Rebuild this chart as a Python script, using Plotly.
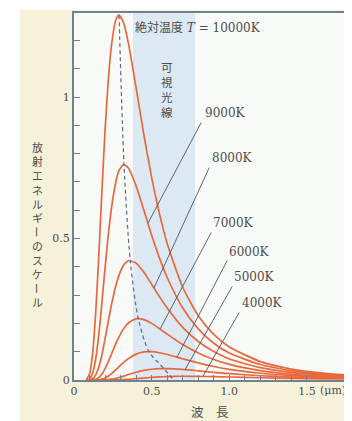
import plotly.graph_objects as go
import numpy as np

# ---------------- data ----------------
wavelength = [0.08, 0.1, 0.12, 0.14, 0.16, 0.18, 0.2, 0.22, 0.24, 0.27, 0.29, 0.32, 0.35,
              0.4, 0.45, 0.5, 0.55, 0.6, 0.7, 0.8, 0.9, 1.0, 1.2, 1.4, 1.6, 1.8]

T10000 = [0.0018, 0.0212, 0.0936, 0.2401, 0.4449, 0.6708, 0.8812, 1.0530, 1.1767, 1.2741, 1.29,
          1.2608, 1.1905, 1.0324, 0.8664, 0.7158, 0.5879, 0.4825, 0.3278, 0.2272, 0.1610,
          0.1167, 0.0651, 0.0389, 0.0245, 0.0162]
T9000 = [0.0002, 0.0043, 0.0243, 0.0756, 0.1624, 0.2760, 0.3961, 0.5084, 0.6033, 0.7015, 0.7408,
         0.7613, 0.7495, 0.6858, 0.5998, 0.5116, 0.4316, 0.3622, 0.2544, 0.1809, 0.1299,
         0.0951, 0.0546, 0.0329, 0.0209, 0.0139]
T8000 = [0.0, 0.0006, 0.0045, 0.0182, 0.0465, 0.0901, 0.1458, 0.2050, 0.2622, 0.3348, 0.3707,
         0.4062, 0.4214, 0.4131, 0.3806, 0.3383, 0.2946, 0.2543, 0.1857, 0.1361, 0.1004,
         0.0744, 0.0435, 0.0270, 0.0173, 0.0116]
T7000 = [0.0, 0.0, 0.0005, 0.0029, 0.0093, 0.0215, 0.0403, 0.0639, 0.0899, 0.1292, 0.1526,
         0.1815, 0.2014, 0.2161, 0.2133, 0.2001, 0.1816, 0.1623, 0.1254, 0.0953, 0.0724,
         0.0551, 0.0333, 0.0209, 0.0138, 0.0094]
T6000 = [0.0, 0.0, 0.0, 0.0002, 0.0011, 0.0032, 0.0073, 0.0133, 0.0214, 0.0363, 0.0469,
         0.0622, 0.0754, 0.0915, 0.0991, 0.1000, 0.0963, 0.0903, 0.0751, 0.0603, 0.0477,
         0.0375, 0.0238, 0.0154, 0.0103, 0.0072]
T5000 = [0.0, 0.0, 0.0, 0.0, 0.0, 0.0001, 0.0007, 0.0015, 0.0029, 0.0061, 0.0089,
         0.0139, 0.0192, 0.0275, 0.0339, 0.0380, 0.0400, 0.0402, 0.0372, 0.0323, 0.0271,
         0.0224, 0.0151, 0.0102, 0.0071, 0.0050]
T4000 = [0.0, 0.0, 0.0, 0.0, 0.0, 0.0, 0.0, 0.0, 0.0001, 0.0004, 0.0007,
         0.0015, 0.0025, 0.0046, 0.0069, 0.0090, 0.0108, 0.0120, 0.0132, 0.0129, 0.0119,
         0.0106, 0.0079, 0.0058, 0.0043, 0.0031]

series = [T10000, T9000, T8000, T7000, T6000, T5000, T4000]
temp_labels = ["10000K", "9000K", "8000K", "7000K", "6000K", "5000K", "4000K"]

# peak locus (dashed)
peak_wl = [0.29, 0.322, 0.362, 0.414, 0.483, 0.58, 0.64]
peak_val = [1.29, 0.762, 0.423, 0.217, 0.100, 0.040, 0.0]

# where each leader line touches its curve (wavelength)
leader_wl = [None, 0.476, 0.515, 0.554, 0.663, 0.715, 0.83]

visible_band = [0.38, 0.78]

x_tickvals = [round(0.1 * i, 1) for i in range(16)]
x_ticktext = ["0", "", "", "", "", "0.5", "", "", "", "", "1.0", "", "", "", "", "1.5"]
y_tickvals = [round(0.1 * i, 1) for i in range(13)]
y_ticktext = ["0", "", "", "", "", "0.5", "", "", "", "", "1", "", ""]

title_text = "絶対温度 <i>T</i> = 10000K"
band_text = "可視光線"
y_title = "放射エネルギーのスケール"
x_title = "波　長"
unit_text = "(μm)"

# ---------------- layout geometry ----------------
# the page body has an 8px margin, so the figure starts at (8, 8) of the window
OFF = 8
WIN_W, WIN_H = 352, 421
W, H = WIN_W - OFF, WIN_H - OFF
# plot area in window pixels
PL, PR, PT, PB = 74, 352, 13, 380
L, R, T, B = PL - OFF, WIN_W - PR, PT - OFF, WIN_H - PB
XR = [0, 1.79]
YR = [0, 1.297]
PW, PH = PR - PL, PB - PT


def dx(xp):
    return XR[0] + (xp - PL) / PW * (XR[1] - XR[0])


def dy(yp):
    return YR[0] + (PB - yp) / PH * (YR[1] - YR[0])


def paper_x(xp):
    return (xp - PL) / PW


def paper_y(yp):
    return (PB - yp) / PH


RED = "#e9673d"
TXT = "#4e4e4e"
AX = "#6f8291"
SERIF = "DejaVu Serif"
CJK = "Noto Sans CJK JP"

fig = go.Figure()

for vals, name in zip(series, temp_labels):
    fig.add_trace(go.Scatter(
        x=wavelength, y=vals, mode="lines", name=name,
        line=dict(color=RED, width=1.7, shape="spline", smoothing=0.6),
        hoverinfo="skip", showlegend=False))

fig.add_trace(go.Scatter(
    x=peak_wl, y=peak_val, mode="lines",
    line=dict(color="#5d6e84", width=1.2, dash="4px,3px", shape="spline", smoothing=0.8),
    hoverinfo="skip", showlegend=False))

shapes = [
    # white strips of the scan outside the cream page
    dict(type="rect", xref="paper", yref="paper", x0=paper_x(OFF), x1=paper_x(20),
         y0=paper_y(WIN_H), y1=paper_y(OFF), fillcolor="white", line=dict(width=0), layer="below"),
    dict(type="rect", xref="paper", yref="paper", x0=paper_x(OFF), x1=1.0,
         y0=paper_y(10), y1=paper_y(OFF), fillcolor="white", line=dict(width=0), layer="below"),
    # visible light band
    dict(type="rect", xref="x", yref="paper", x0=visible_band[0], x1=visible_band[1],
         y0=0, y1=1, fillcolor="#dde9f2", line=dict(width=0), layer="below"),
]

annotations = []
label_left_px = [None, (203, 113), (210, 158), (211, 223), (227, 252), (232, 277), (240, 303)]
leader_start_px = [None, (202, 121), (210, 166), (212, 231), (228, 259), (233, 285), (240, 311)]
for i in range(1, len(series)):
    lx, ly = label_left_px[i]
    annotations.append(dict(x=dx(lx), y=dy(ly), xref="x", yref="y", text=temp_labels[i],
                            showarrow=False, xanchor="left", yanchor="middle",
                            font=dict(family=SERIF, size=12, color=TXT)))
    sx, sy = leader_start_px[i]
    ex = leader_wl[i]
    ey = float(np.interp(ex, wavelength, series[i]))
    annotations.append(dict(x=ex, y=ey, xref="x", yref="y", ax=dx(sx), ay=dy(sy),
                            axref="x", ayref="y", text="", showarrow=True, arrowhead=0,
                            arrowwidth=0.9, arrowcolor="#505560", standoff=0, startstandoff=0))

annotations.append(dict(x=dx(133), y=dy(28), xref="x", yref="y", text=title_text,
                        showarrow=False, xanchor="left", yanchor="middle",
                        font=dict(family=SERIF + ", " + CJK, size=12, color=TXT)))

# vertical "可視光線" (stacked characters, line height 1.3 em ≈ 15 px)
annotations.append(dict(x=dx(167), y=dy(67 + 15 * 1.5), xref="x", yref="y",
                        text="<br>".join(band_text), showarrow=False,
                        xanchor="center", yanchor="middle",
                        font=dict(family=CJK, size=11.5, color=TXT)))

# vertical y title: stacked runs; the long-vowel mark is turned upright as in vertical writing
step = 14.1
runs = []
cur = ""
start = 0
for k, ch in enumerate(y_title):
    if ch == "ー":
        if cur:
            runs.append((cur, start))
        runs.append((ch, k))
        cur = ""
        start = k + 1
    else:
        if not cur:
            start = k
        cur += ch
if cur:
    runs.append((cur, start))

for text, k0 in runs:
    n = len(text)
    yc = 147 + step * (k0 + (n - 1) / 2)
    annotations.append(dict(x=paper_x(37), y=paper_y(yc), xref="paper", yref="paper",
                            text="<br>".join(text), showarrow=False,
                            xanchor="center", yanchor="middle",
                            textangle=90 if text == "ー" else 0,
                            font=dict(family=CJK, size=10.9, color=TXT)))

annotations.append(dict(x=paper_x(210), y=paper_y(411), xref="paper", yref="paper", text=x_title,
                        showarrow=False, xanchor="center", yanchor="middle",
                        font=dict(family=CJK, size=12.5, color=TXT)))
annotations.append(dict(x=paper_x(318), y=paper_y(390), xref="paper", yref="paper", text=unit_text,
                        showarrow=False, xanchor="left", yanchor="middle",
                        font=dict(family=SERIF, size=11, color=TXT)))

fig.update_layout(
    width=W, height=H,
    margin=dict(l=L, r=R, t=T, b=B, pad=0),
    paper_bgcolor="#f6f2d9",
    plot_bgcolor="#f8faf8",
    shapes=shapes,
    annotations=annotations,
    showlegend=False,
    xaxis=dict(range=XR, tickvals=x_tickvals, ticktext=x_ticktext, ticks="inside", ticklen=5,
               tickwidth=1, tickcolor=AX, showline=True, linecolor=AX, linewidth=2, mirror=True,
               showgrid=False, zeroline=False,
               tickfont=dict(family=SERIF, size=11, color=TXT)),
    yaxis=dict(range=YR, tickvals=y_tickvals, ticktext=y_ticktext, ticks="inside", ticklen=6,
               tickwidth=1, tickcolor=AX, showline=True, linecolor=AX, linewidth=2,
               showgrid=False, zeroline=False,
               tickfont=dict(family=SERIF, size=11, color=TXT)),
)

fig.write_html("out.html")
